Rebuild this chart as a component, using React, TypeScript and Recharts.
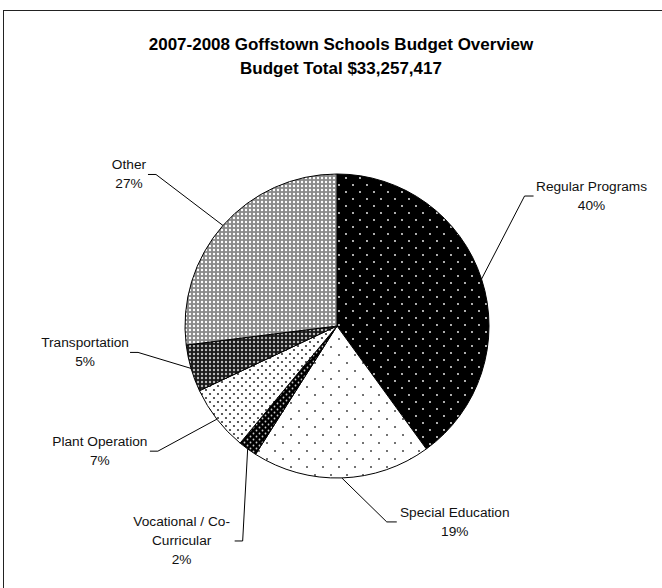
import React from "react";
import { PieChart, Pie, Cell } from "recharts";

const categories = [
  "Regular Programs",
  "Special Education",
  "Vocational / Co-Curricular",
  "Plant Operation",
  "Transportation",
  "Other",
];
const shares = [40, 19, 2, 7, 5, 27];

const data = categories.map((name, i) => ({ name, value: shares[i] }));

// hatch fill per slice, in order
const fills = [
  "url(#pRegular)",
  "url(#pSpecial)",
  "url(#pVoc)",
  "url(#pPlant)",
  "url(#pTrans)",
  "url(#pOther)",
];

// leader line elbow offsets from slice edge, tick length, text offset from tick end
const labelLayout = [
  { dx: 43, dy: -83, tick: 9, tx: 58 },
  { dx: 45, dy: 44, tick: 10, tx: 58 },
  { dx: -5, dy: 92, tick: -8, tx: -53 },
  { dx: -59, dy: 32, tick: -8, tx: -50 },
  { dx: -53, dy: -16, tick: -8, tx: -45 },
  { dx: -67, dy: -51, tick: -8, tx: -19 },
];

const RAD = Math.PI / 180;
const FONT = "'Liberation Sans', Arial, sans-serif";

function splitName(name: string) {
  if (name.includes("Co-")) {
    const i = name.indexOf("Co-") + 3;
    return [name.slice(0, i), name.slice(i)];
  }
  return [name];
}

function renderLabel(props: any) {
  const { cx, cy, midAngle, outerRadius, index, name, value } = props;
  const lay = labelLayout[index];
  const sx = cx + outerRadius * Math.cos(-midAngle * RAD);
  const sy = cy + outerRadius * Math.sin(-midAngle * RAD);
  const ex = sx + lay.dx;
  const ey = sy + lay.dy;
  const tx = ex + lay.tick;
  const lines = [...splitName(name), `${value}%`];
  const lineH = 19;
  return (
    <g>
      <polyline
        points={`${sx},${sy} ${ex},${ey} ${tx},${ey}`}
        fill="none"
        stroke="#000"
        strokeWidth={1}
      />
      <text
        x={tx + lay.tx}
        textAnchor="middle"
        fontFamily={FONT}
        fontSize={13.7}
        fill="#111"
      >
        {lines.map((l, i) => (
          <tspan
            key={i}
            x={tx + lay.tx}
            y={ey + (i - (lines.length - 1) / 2) * lineH}
            dominantBaseline="central"
          >
            {l}
          </tspan>
        ))}
      </text>
    </g>
  );
}

export default function App() {
  return (
    <div
      style={{
        position: "absolute",
        left: 0,
        top: 0,
        width: 662,
        height: 588,
        overflow: "hidden",
        background: "#fff",
      }}
    >
      <div
        style={{
          position: "absolute",
          left: 3,
          top: 10,
          width: 700,
          height: 620,
          border: "1.5px solid #222",
        }}
      />
      <div
        style={{
          position: "absolute",
          left: 0,
          top: 33,
          width: 662,
          textAlign: "center",
          fontFamily: FONT,
          fontWeight: "bold",
          fontSize: 17,
          lineHeight: "24px",
          color: "#000",
          paddingLeft: 20,
          boxSizing: "border-box",
        }}
      >
        2007-2008 Goffstown Schools Budget Overview
        <br />
        Budget Total $33,257,417
      </div>
      <div style={{ position: "absolute", left: 0, top: 0 }}>
        <PieChart
          width={662}
          height={588}
          margin={{ top: 0, right: 0, bottom: 0, left: 0 }}
        >
          <defs>
            <pattern id="pRegular" width="14" height="14" patternUnits="userSpaceOnUse">
              <rect width="14" height="14" fill="#000" />
              <circle cx="3" cy="3" r="0.9" fill="#fff" />
              <circle cx="10" cy="10" r="0.9" fill="#fff" />
            </pattern>
            <pattern id="pSpecial" width="16" height="16" patternUnits="userSpaceOnUse">
              <rect width="16" height="16" fill="#fff" />
              <circle cx="3" cy="3" r="1" fill="#444" />
              <circle cx="11" cy="11" r="1" fill="#444" />
            </pattern>
            <pattern id="pVoc" width="6" height="6" patternUnits="userSpaceOnUse">
              <rect width="6" height="6" fill="#000" />
              <circle cx="1.5" cy="1.5" r="0.9" fill="#ccc" />
              <circle cx="4.5" cy="4.5" r="0.9" fill="#ccc" />
            </pattern>
            <pattern id="pPlant" width="8" height="8" patternUnits="userSpaceOnUse">
              <rect width="8" height="8" fill="#fff" />
              <circle cx="2" cy="2" r="1.1" fill="#333" />
              <circle cx="6" cy="6" r="1.1" fill="#333" />
            </pattern>
            <pattern id="pTrans" width="4" height="4" patternUnits="userSpaceOnUse">
              <rect width="4" height="4" fill="#1a1a1a" />
              <circle cx="2" cy="2" r="1.2" fill="#bbb" />
            </pattern>
            <pattern id="pOther" width="4" height="4" patternUnits="userSpaceOnUse">
              <rect width="4" height="4" fill="#8a8a8a" />
              <circle cx="2" cy="2" r="1.2" fill="#fff" />
            </pattern>
          </defs>
          <Pie
            data={data}
            dataKey="value"
            nameKey="name"
            cx={337}
            cy={326}
            outerRadius={152}
            startAngle={90}
            endAngle={-270}
            stroke="#000"
            strokeWidth={1}
            label={renderLabel}
            labelLine={false}
            isAnimationActive={false}
          >
            {data.map((d, i) => (
              <Cell key={d.name} fill={fills[i]} />
            ))}
          </Pie>
        </PieChart>
      </div>
    </div>
  );
}
